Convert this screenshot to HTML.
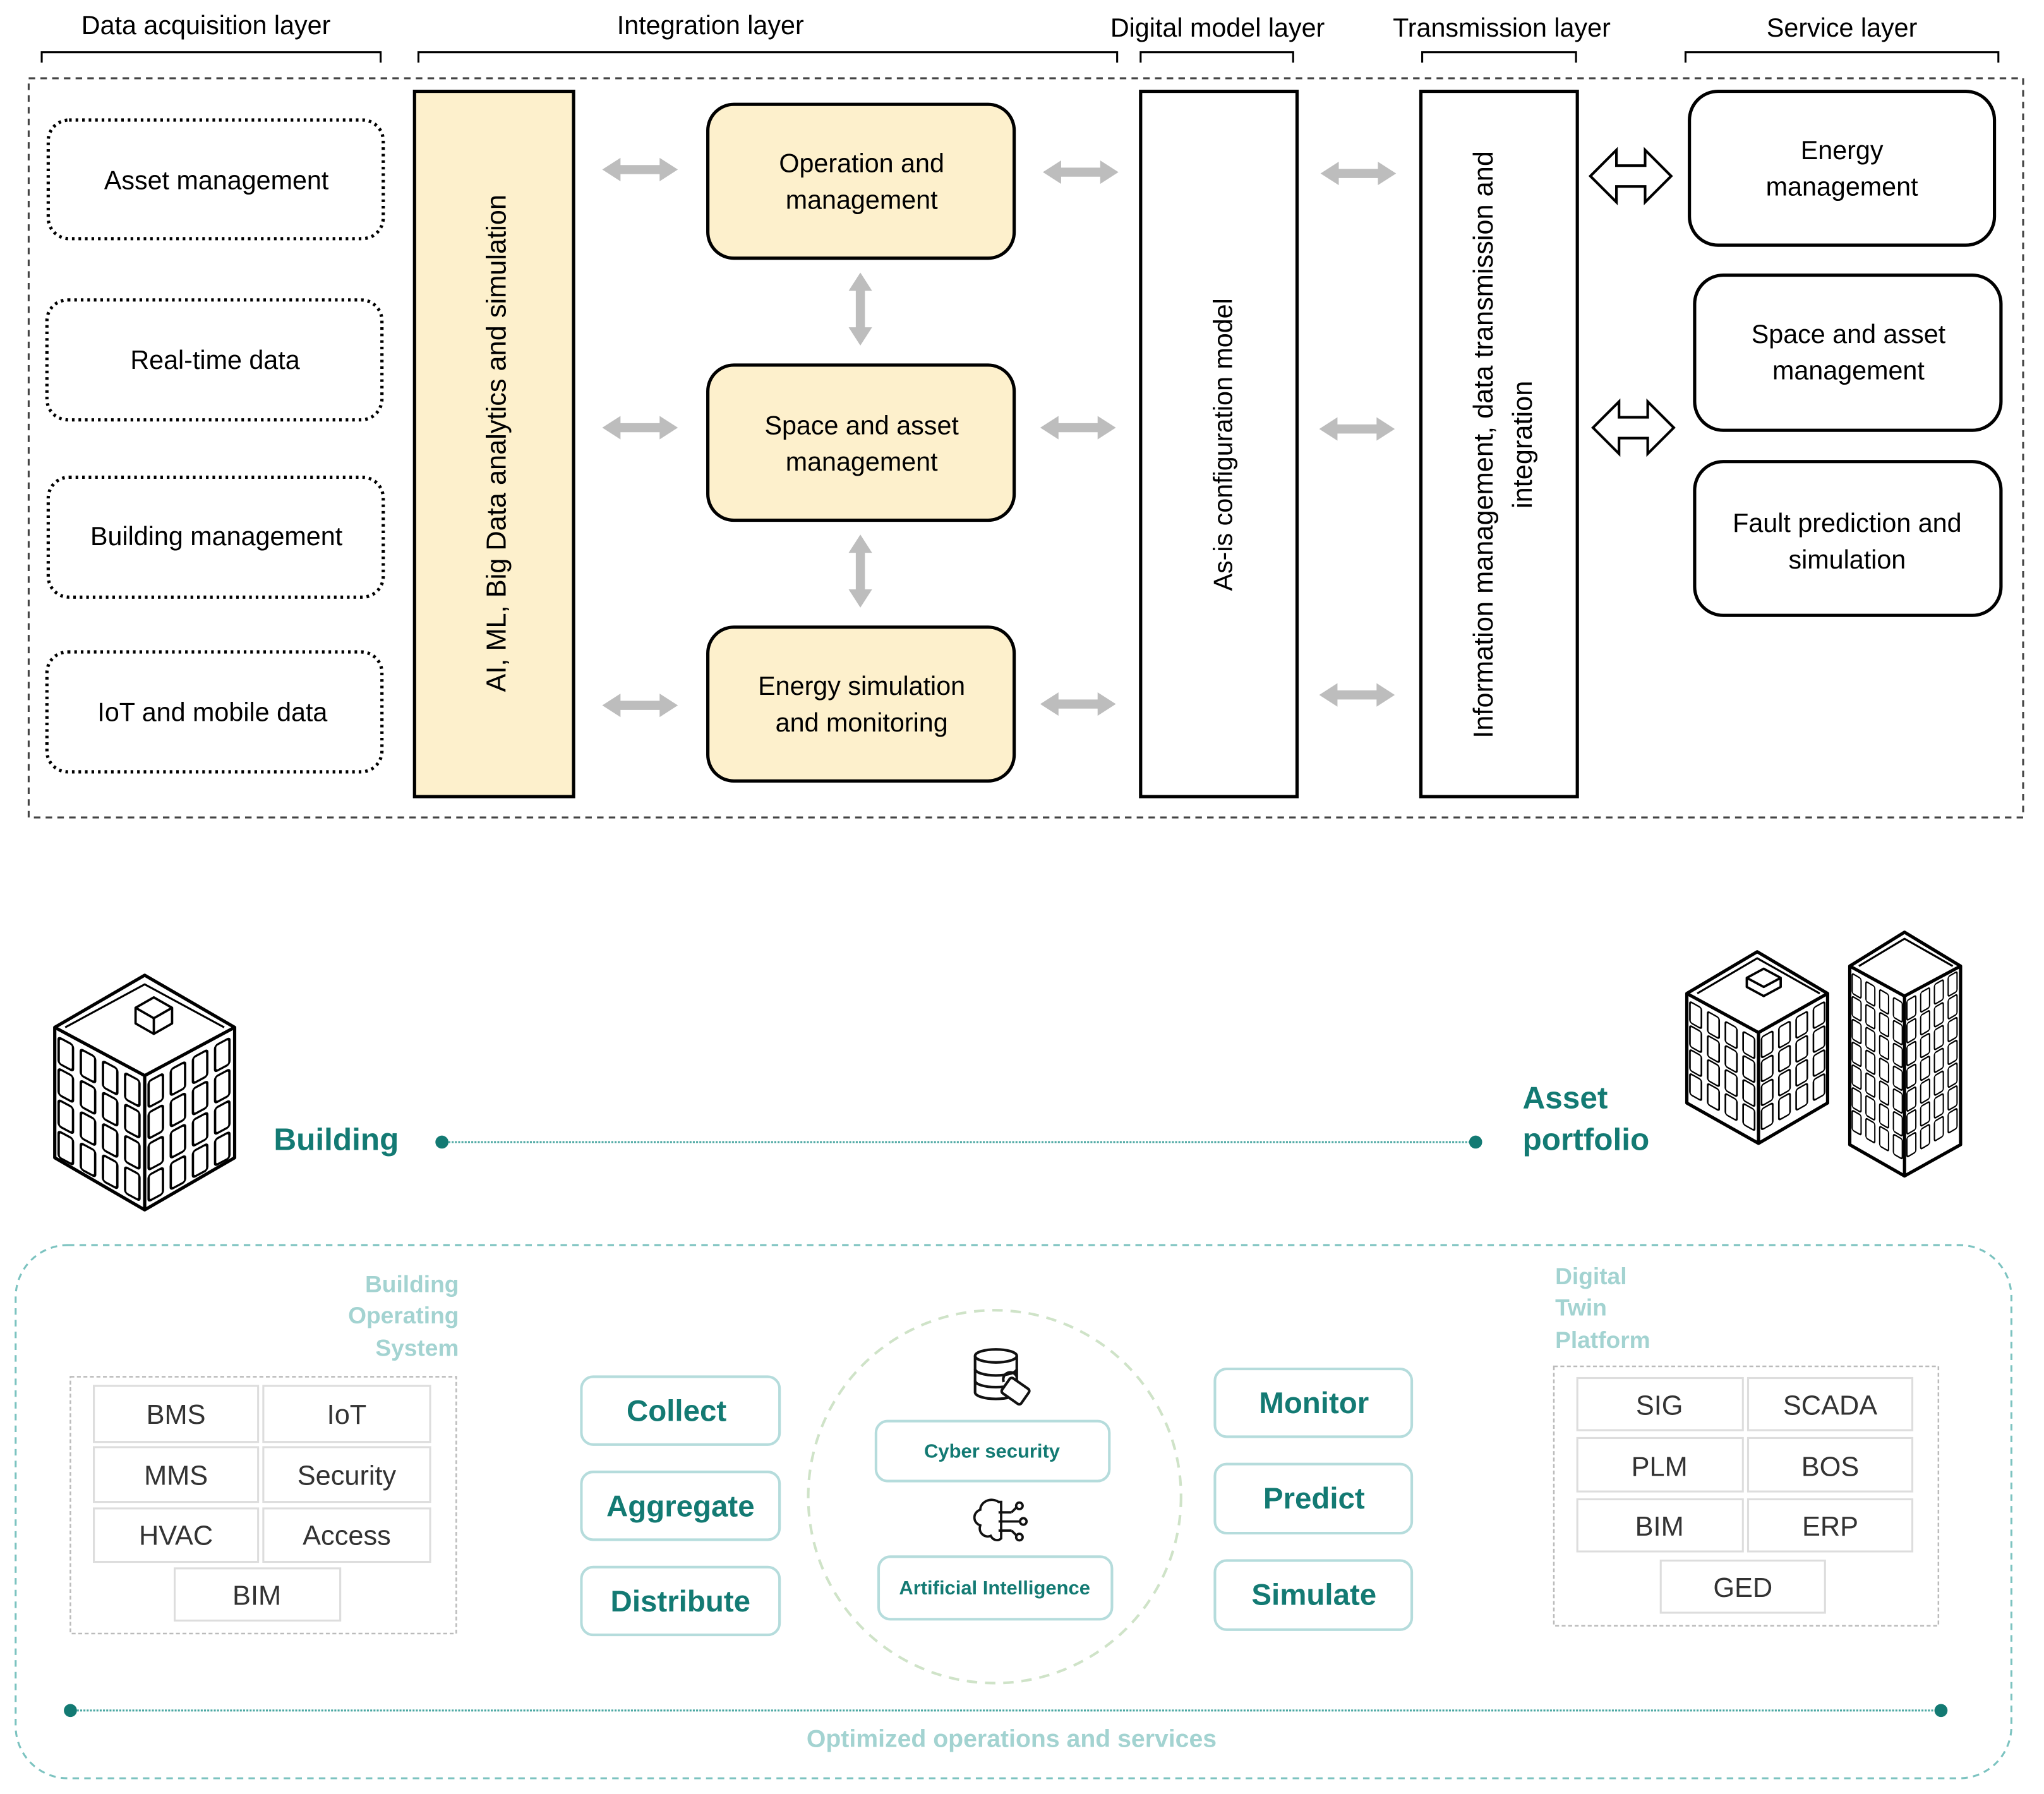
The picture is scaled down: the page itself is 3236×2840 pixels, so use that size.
<!DOCTYPE html>
<html><head><meta charset="utf-8"><style>
html,body{margin:0;padding:0;background:#fff;}
svg{display:block;}
text{font-family:"Liberation Sans",sans-serif;}
</style></head><body>
<svg width="3236" height="2840" viewBox="0 0 1568 1376" xmlns="http://www.w3.org/2000/svg">
<defs>
<path id="ga" d="M0 0 L14 -9 L14 -3.5 L44 -3.5 L44 -9 L58 0 L44 9 L44 3.5 L14 3.5 L14 9Z" fill="#bdbdbd"/>
<path id="gv" d="M0 0 L-9 14 L-3.5 14 L-3.5 42 L-9 42 L0 56 L9 42 L3.5 42 L3.5 14 L9 14Z" fill="#bdbdbd"/>
<path id="ha" d="M0 0 L20 -20 L20 -8 L42 -8 L42 -20 L62 0 L42 20 L42 8 L20 8 L20 20Z" fill="#fff" stroke="#000" stroke-width="2"/>
<g id="w4">
<rect x="3" y="4" width="11" height="20" rx="2"/><rect x="20" y="4" width="11" height="20" rx="2"/><rect x="37" y="4" width="11" height="20" rx="2"/><rect x="54" y="4" width="11" height="20" rx="2"/>
</g>
</defs>
<rect width="1568" height="1376" fill="#fff"/>

<g font-size="20" text-anchor="middle" fill="#000">
<text x="158" y="26">Data acquisition layer</text>
<text x="545" y="26">Integration layer</text>
<text x="934" y="28">Digital model layer</text>
<text x="1152" y="28">Transmission layer</text>
<text x="1413" y="28">Service layer</text>
</g>
<g fill="none" stroke="#000" stroke-width="1.5">
<path d="M32 48 V40 H292 V48"/>
<path d="M321 48 V40 H857 V48"/>
<path d="M875 48 V40 H992 V48"/>
<path d="M1091 48 V40 H1209 V48"/>
<path d="M1293 48 V40 H1533 V48"/>
</g>
<rect x="22" y="60" width="1530" height="567" fill="none" stroke="#444" stroke-width="1.5" stroke-dasharray="5,4"/>

<g fill="none" stroke="#000" stroke-width="2.5" stroke-dasharray="2,3">
<rect x="37" y="92" width="257" height="91" rx="16"/>
<rect x="36" y="230" width="257" height="92" rx="16"/>
<rect x="37" y="366" width="257" height="92" rx="16"/>
<rect x="36" y="500" width="257" height="92" rx="16"/>
</g>
<g font-size="20" text-anchor="middle">
<text x="166" y="145">Asset management</text>
<text x="165" y="283">Real-time data</text>
<text x="166" y="418">Building management</text>
<text x="163" y="553">IoT and mobile data</text>
</g>

<rect x="318" y="70" width="122" height="541" fill="#fdf0cc" stroke="#000" stroke-width="2.5"/>
<text transform="translate(388,340) rotate(-90)" font-size="21" text-anchor="middle">AI, ML, Big Data analytics and simulation</text>
<g fill="#fdf0cc" stroke="#000" stroke-width="2.5">
<rect x="543" y="80" width="235" height="118" rx="20"/>
<rect x="543" y="280" width="235" height="119" rx="20"/>
<rect x="543" y="481" width="235" height="118" rx="20"/>
</g>
<g font-size="20" text-anchor="middle">
<text x="661" y="132">Operation and</text><text x="661" y="160">management</text>
<text x="661" y="333">Space and asset</text><text x="661" y="361">management</text>
<text x="661" y="533">Energy simulation</text><text x="661" y="561">and monitoring</text>
</g>
<use href="#ga" x="462" y="130"/><use href="#ga" x="462" y="328"/><use href="#ga" x="462" y="541"/>
<use href="#ga" x="800" y="132"/><use href="#ga" x="798" y="328"/><use href="#ga" x="798" y="540"/>
<use href="#ga" x="1013" y="133"/><use href="#ga" x="1012" y="329"/><use href="#ga" x="1012" y="533"/>
<use href="#gv" x="660" y="209"/><use href="#gv" x="660" y="410"/>

<rect x="875" y="70" width="120" height="541" fill="#fff" stroke="#000" stroke-width="2.5"/>
<text transform="translate(945,341) rotate(-90)" font-size="20" text-anchor="middle">As-is configuration model</text>
<rect x="1090" y="70" width="120" height="541" fill="#fff" stroke="#000" stroke-width="2.5"/>
<text transform="translate(1145,341) rotate(-90)" font-size="21" text-anchor="middle">Information management, data transmission and</text>
<text transform="translate(1175,341) rotate(-90)" font-size="21" text-anchor="middle">integration</text>
<use href="#ha" x="1220" y="135"/><use href="#ha" x="1222" y="328"/>

<g fill="#fff" stroke="#000" stroke-width="2.5">
<rect x="1296" y="70" width="234" height="118" rx="22"/>
<rect x="1300" y="211" width="235" height="119" rx="22"/>
<rect x="1300" y="354" width="235" height="118" rx="22"/>
</g>
<g font-size="20" text-anchor="middle">
<text x="1413" y="122">Energy</text><text x="1413" y="150">management</text>
<text x="1418" y="263">Space and asset</text><text x="1418" y="291">management</text>
<text x="1417" y="408">Fault prediction and</text><text x="1417" y="436">simulation</text>
</g>

<g fill="#fff" stroke="#000" stroke-width="2.5" stroke-linejoin="round">
<polygon points="111,748 42,788 42,888 111,928 180,888 180,788"/>
<polyline points="42,788 111,825 180,788" fill="none"/>
<line x1="111" y1="825" x2="111" y2="928"/>
<polyline points="50,788 111,755 172,788" fill="none" stroke-width="1.5"/>
<polygon points="118,765 104,773 104,785 118,793 132,785 132,773" stroke-width="1.8"/>
<polyline points="104,773 118,781 132,773" fill="none" stroke-width="1.8"/>
<line x1="118" y1="781" x2="118" y2="793" stroke-width="1.8"/>
</g>
<g fill="none" stroke="#000" stroke-width="1.8">
<g transform="matrix(1,0.536,0,1,42,788)">
<use href="#w4" y="2"/><use href="#w4" y="26"/><use href="#w4" y="50"/><use href="#w4" y="74"/>
</g>
<g transform="matrix(1,-0.536,0,1,111,825)">
<use href="#w4" y="2"/><use href="#w4" y="26"/><use href="#w4" y="50"/><use href="#w4" y="74"/>
</g>
</g>

<text x="210" y="882" font-size="24" font-weight="bold" fill="#137a73">Building</text>
<line x1="339" y1="876" x2="1132" y2="876" stroke="#4aa7a2" stroke-width="1.5" stroke-dasharray="1.5,1"/>
<circle cx="339" cy="876" r="5" fill="#137a73"/><circle cx="1132" cy="876" r="5" fill="#137a73"/>
<text x="1168" y="850" font-size="24" font-weight="bold" fill="#137a73">Asset</text>
<text x="1168" y="882" font-size="24" font-weight="bold" fill="#137a73">portfolio</text>

<g fill="#fff" stroke="#000" stroke-width="2.5" stroke-linejoin="round">
<polygon points="1348,730 1294,762 1294,846 1349,877 1402,846 1402,762"/>
<polyline points="1294,762 1349,792 1402,762" fill="none"/>
<line x1="1349" y1="792" x2="1349" y2="877"/>
<polyline points="1302,762 1348,735 1396,762" fill="none" stroke-width="1.5"/>
<polygon points="1353,743 1340,750 1340,757 1353,764 1366,757 1366,750" stroke-width="1.8"/>
<polyline points="1340,750 1353,757 1366,750" fill="none" stroke-width="1.8"/>
<polygon points="1461,715 1419,741 1419,878 1461,902 1504,878 1504,741"/>
<polyline points="1419,741 1461,764 1504,741" fill="none"/>
<line x1="1461" y1="764" x2="1461" y2="902"/>
<polyline points="1426,741 1461,720 1498,741" fill="none" stroke-width="1.5"/>
</g>
<g fill="none" stroke="#000" stroke-width="1.6">
<g transform="matrix(0.8,0.45,0,0.8,1294,762)">
<use href="#w4" y="2"/><use href="#w4" y="25"/><use href="#w4" y="48"/><use href="#w4" y="71"/>
</g>
<g transform="matrix(0.78,-0.44,0,0.8,1349,792)">
<use href="#w4" y="2"/><use href="#w4" y="25"/><use href="#w4" y="48"/><use href="#w4" y="71"/>
</g>
<g transform="matrix(0.62,0.36,0,0.76,1419,741)">
<use href="#w4" y="2"/><use href="#w4" y="25"/><use href="#w4" y="48"/><use href="#w4" y="71"/><use href="#w4" y="94"/><use href="#w4" y="117"/><use href="#w4" y="140"/>
</g>
<g transform="matrix(0.62,-0.36,0,0.76,1461,764)">
<use href="#w4" y="2"/><use href="#w4" y="25"/><use href="#w4" y="48"/><use href="#w4" y="71"/><use href="#w4" y="94"/><use href="#w4" y="117"/><use href="#w4" y="140"/>
</g>
</g>

<rect x="12" y="955" width="1531" height="409" rx="40" fill="none" stroke="#7cc3c0" stroke-width="1.5" stroke-dasharray="5,4"/>
<g font-size="18" fill="#a3d3d1" font-weight="bold">
<text x="352" y="991" text-anchor="end">Building</text>
<text x="352" y="1015" text-anchor="end">Operating</text>
<text x="352" y="1040" text-anchor="end">System</text>
<text x="1193" y="985">Digital</text>
<text x="1193" y="1009">Twin</text>
<text x="1193" y="1034">Platform</text>
</g>
<rect x="54" y="1056" width="296" height="197" fill="none" stroke="#bbb" stroke-width="1.2" stroke-dasharray="3,2"/>
<g fill="#fff" stroke="#ddd" stroke-width="1.5">
<rect x="72" y="1063" width="126" height="43"/><rect x="202" y="1063" width="128" height="43"/>
<rect x="72" y="1110" width="126" height="42"/><rect x="202" y="1110" width="128" height="42"/>
<rect x="72" y="1157" width="126" height="41"/><rect x="202" y="1157" width="128" height="41"/>
<rect x="134" y="1203" width="127" height="40"/>
<rect x="1210" y="1057" width="127" height="40"/><rect x="1341" y="1057" width="126" height="40"/>
<rect x="1210" y="1103" width="127" height="41"/><rect x="1341" y="1103" width="126" height="41"/>
<rect x="1210" y="1150" width="127" height="40"/><rect x="1341" y="1150" width="126" height="40"/>
<rect x="1274" y="1197" width="126" height="40"/>
</g>
<g font-size="21" text-anchor="middle" fill="#333">
<text x="135" y="1092">BMS</text><text x="266" y="1092">IoT</text>
<text x="135" y="1139">MMS</text><text x="266" y="1139">Security</text>
<text x="135" y="1185">HVAC</text><text x="266" y="1185">Access</text>
<text x="197" y="1231">BIM</text>
<text x="1273" y="1085">SIG</text><text x="1404" y="1085">SCADA</text>
<text x="1273" y="1132">PLM</text><text x="1404" y="1132">BOS</text>
<text x="1273" y="1178">BIM</text><text x="1404" y="1178">ERP</text>
<text x="1337" y="1225">GED</text>
</g>
<rect x="1192" y="1048" width="295" height="199" fill="none" stroke="#bbb" stroke-width="1.2" stroke-dasharray="3,2"/>

<g fill="#fff" stroke="#b5dcdc" stroke-width="2">
<rect x="446" y="1056" width="152" height="52" rx="9"/>
<rect x="446" y="1129" width="152" height="52" rx="9"/>
<rect x="446" y="1202" width="152" height="52" rx="9"/>
<rect x="932" y="1050" width="151" height="52" rx="9"/>
<rect x="932" y="1123" width="151" height="53" rx="9"/>
<rect x="932" y="1197" width="151" height="53" rx="9"/>
<rect x="672" y="1090" width="179" height="46" rx="9"/>
<rect x="674" y="1194" width="179" height="48" rx="9"/>
</g>
<g font-size="23" font-weight="bold" text-anchor="middle" fill="#137a73">
<text x="519" y="1090">Collect</text>
<text x="522" y="1163">Aggregate</text>
<text x="522" y="1236">Distribute</text>
<text x="1008" y="1084">Monitor</text>
<text x="1008" y="1157">Predict</text>
<text x="1008" y="1231">Simulate</text>
</g>
<g font-size="15" font-weight="bold" text-anchor="middle" fill="#137a73">
<text x="761" y="1118">Cyber security</text>
<text x="763" y="1223">Artificial Intelligence</text>
</g>
<circle cx="763" cy="1148" r="143" fill="none" stroke="#cfe3c8" stroke-width="2" stroke-dasharray="8,6"/>
<g fill="#fff" stroke="#111" stroke-width="2">
<path d="M748 1040 v28 a16 5 0 0 0 32 0 v-28"/>
<ellipse cx="764" cy="1040" rx="16" ry="5"/>
<path d="M748 1050 a16 5 0 0 0 32 0 M748 1059 a16 5 0 0 0 32 0" fill="none"/>
<rect x="770" y="1060" width="18" height="14" rx="2" transform="rotate(35 779 1067)"/>
<path d="M770 1060 a5 5 0 0 1 10 -4" fill="none"/>
</g>
<g fill="none" stroke="#111" stroke-width="1.8">
<path d="M766 1152 c-6 -4 -14 0 -14 6 c-6 2 -6 10 0 12 c-2 6 4 10 8 8 c2 4 6 4 8 2 v-28z"/>
<path d="M766 1160 h10 M766 1167 h16 M766 1174 h10 M776 1160 l4 -4 M776 1174 l4 4"/>
<circle cx="782" cy="1155" r="2.5"/><circle cx="785" cy="1167" r="2.5"/><circle cx="782" cy="1179" r="2.5"/>
</g>

<line x1="54" y1="1312" x2="1489" y2="1312" stroke="#4aa7a2" stroke-width="1.5" stroke-dasharray="1.5,1"/>
<circle cx="54" cy="1312" r="5" fill="#137a73"/><circle cx="1489" cy="1312" r="5" fill="#137a73"/>
<text x="776" y="1340" font-size="19" font-weight="bold" text-anchor="middle" fill="#a3d3d1">Optimized operations and services</text>
</svg>
</body></html>
